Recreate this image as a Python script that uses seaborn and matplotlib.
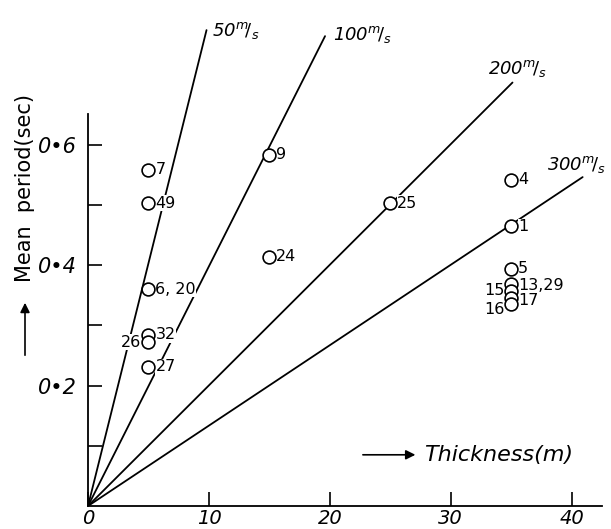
import pandas as pd
import matplotlib.pyplot as plt
import seaborn as sns

# Data
point_ids = ["7", "49", "6, 20", "32", "26", "27", "9", "24", "25",
             "4", "1", "5", "13,29", "15", "17", "16"]
thickness = [5, 5, 5, 5, 5, 5, 15, 15, 25, 35, 35, 35, 35, 35, 35, 35]
period = [0.558, 0.503, 0.360, 0.284, 0.272, 0.231, 0.583, 0.414, 0.503,
          0.542, 0.464, 0.394, 0.369, 0.357, 0.346, 0.335]
label_left = ["26", "15", "16"]

speeds = ["50", "100", "200", "300"]
line_end_thickness = [9.8, 19.6, 35.1, 40.9]
line_end_period = [0.790, 0.780, 0.703, 0.546]

points = pd.DataFrame({"id": point_ids, "thickness": thickness, "period": period})
lines = pd.DataFrame({
    "speed": speeds * 2,
    "thickness": [0] * len(speeds) + line_end_thickness,
    "period": [0] * len(speeds) + line_end_period,
})

sns.set_theme(style="ticks")
plt.rcParams['font.family'] = ['DejaVu Sans']
plt.rcParams['mathtext.default'] = 'it'
plt.rcParams['text.color'] = 'black'
plt.rcParams['xtick.color'] = 'black'
plt.rcParams['ytick.color'] = 'black'

fig = plt.figure(figsize=(6.11, 5.29), dpi=100)
ax = fig.add_axes([88 / 611, 23 / 529, 514 / 611, 506 / 529])

sns.lineplot(data=lines, x="thickness", y="period", units="speed", estimator=None,
             color="black", linewidth=1.3, sort=False, ax=ax, zorder=1)
sns.scatterplot(data=points, x="thickness", y="period", s=85, facecolor="white",
                edgecolor="black", linewidth=1.2, ax=ax, zorder=3)

# point labels (small vertical nudges in the crowded stack at 35 m)
nudge = {"13,29": -1, "15": 0, "17": -2, "16": -4}
for _, r in points.iterrows():
    left = r["id"] in label_left
    dy = nudge.get(r["id"], 0)
    ax.annotate(r["id"], (r["thickness"], r["period"]),
                xytext=(-5 if left else 5, dy), textcoords="offset points",
                ha="right" if left else "left", va="center", fontsize=11.5,
                bbox=dict(facecolor="white", edgecolor="none", pad=0.1), zorder=2)

# speed labels near the line ends (offsets in points)
label_offsets = {"50": (4, 0), "100": (6, 1), "200": (-18, 10), "300": (-26, 9)}
for sp, xe, ye in zip(speeds, line_end_thickness, line_end_period):
    ax.annotate(sp + r"$^{m}\!/_{s}$", (xe, ye), xytext=label_offsets[sp],
                textcoords="offset points", ha="left", va="center",
                fontsize=13, fontstyle="italic")

ax.set_xlim(0, 42.5)
ax.set_ylim(0, 0.84)
ax.set_xticks([0, 10, 20, 30, 40])
ax.set_xticklabels(["0", "10", "20", "30", "40"], fontsize=14, fontstyle="italic")
ax.set_yticks([0.1, 0.2, 0.3, 0.4, 0.5, 0.6])
ax.set_yticklabels(["", "0•2", "", "0•4", "", "0•6"], fontsize=15, fontstyle="italic")
ax.tick_params(axis="both", direction="in", length=10, width=1.2, color="black")
ax.tick_params(axis="y", pad=8)
ax.tick_params(axis="x", pad=2)
ax.set_xlabel("")
ax.set_ylabel("")
sns.despine(ax=ax)
ax.spines["left"].set_bounds(0, 0.65)
ax.spines["left"].set_linewidth(1.3)
ax.spines["bottom"].set_linewidth(1.3)
ax.spines["left"].set_color("black")
ax.spines["bottom"].set_color("black")
ax.patch.set_alpha(0)

# axis titles with arrows
ax.text(27.8, 0.085, "Thickness(m)", fontsize=16, fontstyle="italic", ha="left", va="center")
ax.annotate("", xy=(27.3, 0.085), xytext=(22.5, 0.085),
            arrowprops=dict(arrowstyle="-|>", color="black", lw=1.2, mutation_scale=14))
fig.text(25 / 611, 1 - 188 / 529, "Mean  period(sec)", rotation=90, fontsize=15,
         ha="center", va="center")
ax.annotate("", xy=(25, 229), xytext=(25, 171), xycoords="figure pixels",
            textcoords="figure pixels",
            arrowprops=dict(arrowstyle="-|>", color="black", lw=1.2, mutation_scale=14))

fig.savefig("out.png", dpi=100)
